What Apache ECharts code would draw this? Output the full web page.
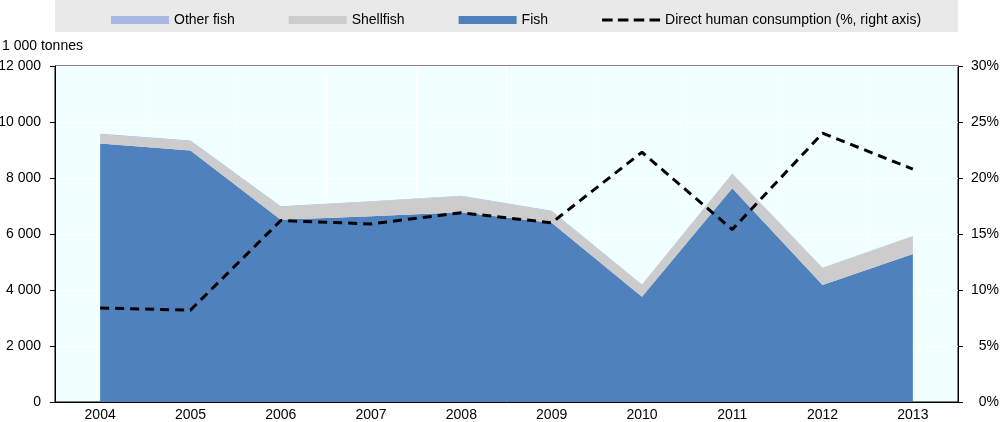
<!DOCTYPE html>
<html><head><meta charset="utf-8">
<script src="https://cdn.jsdelivr.net/npm/echarts@6/dist/echarts.min.js"></script>
<style>html,body{margin:0;padding:0;background:#fff}#c{width:1000px;height:422px}</style>
</head><body><div id="c"></div>
<script>
const categories = ['2004','2005','2006','2007','2008','2009','2010','2011','2012','2013'];
const fish = [9230, 8980, 6510, 6630, 6780, 6400, 3760, 7630, 4180, 5290];
const shellfish = [326, 336, 458, 520, 568, 408, 419, 513, 594, 639];
const otherFish = [20, 20, 20, 20, 20, 20, 20, 20, 20, 20];
const directHuman = [8.4, 8.2, 16.2, 15.9, 16.9, 16.0, 22.3, 15.4, 24.0, 20.8];

const FONT = "'Liberation Sans',Arial,sans-serif";
const chart = echarts.init(document.getElementById('c'));
const fmt = v => String(v).replace(/\B(?=(\d{3})+(?!\d))/g, ' ');
const dashIcon = 'path://M0,0h10v3h-10z M15,0h10v3h-10z M30,0h10v3h-10z M45,0h10v3h-10z';
chart.setOption({
  animation: false,
  textStyle: {fontFamily: FONT, fontSize: 14, color: '#000'},
  graphic: [
    {type: 'rect', shape: {x: 55, y: 0, width: 903, height: 32}, style: {fill: '#E9E9E9'}, z: -10},
    {type: 'text', left: 2, top: 39, style: {text: '1 000 tonnes', font: '14px ' + FONT, fill: '#000'}}
  ],
  legend: {
    top: 8, left: 106,
    itemWidth: 58, itemHeight: 8, itemGap: 54,
    textStyle: {fontFamily: FONT, fontSize: 14, color: '#000'},
    data: [
      {name: 'Other fish', icon: 'rect'},
      {name: 'Shellfish', icon: 'rect'},
      {name: 'Fish', icon: 'rect'},
      {name: 'Direct human consumption (%, right axis)', icon: dashIcon}
    ]
  },
  grid: {left: 55, right: 42, top: 66, bottom: 20, outerBoundsMode: 'none', containLabel: false,
         show: true, backgroundColor: '#F2FFFF', borderColor: '#000', borderWidth: 1},
  xAxis: {
    type: 'category', data: categories, boundaryGap: true,
    axisLine: {lineStyle: {color: '#000', width: 1}},
    axisTick: {inside: true, length: 5, lineStyle: {color: '#000'}},
    axisLabel: {color: '#000', fontFamily: FONT, fontSize: 14, margin: 6},
    splitLine: {show: true, lineStyle: {color: '#fff', width: 1}}
  },
  yAxis: [
    {type: 'value', min: 0, max: 12000, interval: 2000,
     axisLine: {show: true, lineStyle: {color: '#000'}},
     axisTick: {show: true, length: 5, lineStyle: {color: '#000'}},
     axisLabel: {color: '#000', fontFamily: FONT, fontSize: 14, margin: 14, formatter: fmt},
     splitLine: {show: true, lineStyle: {color: '#fff', width: 1}}},
    {type: 'value', min: 0, max: 30, interval: 5,
     axisLine: {show: true, lineStyle: {color: '#000'}},
     axisTick: {show: true, length: 5, lineStyle: {color: '#000'}},
     axisLabel: {color: '#000', fontFamily: FONT, fontSize: 14, margin: 41, align: 'right', formatter: v => v + '%'},
     splitLine: {show: false}}
  ],
  series: [
    {name: 'Fish', type: 'line', stack: 't', data: fish, symbol: 'none',
     lineStyle: {width: 0}, areaStyle: {color: '#4F81BD', opacity: 1}, itemStyle: {color: '#4F81BD'}},
    {name: 'Shellfish', type: 'line', stack: 't', data: shellfish, symbol: 'none',
     lineStyle: {width: 0}, areaStyle: {color: '#CCCCCC', opacity: 1}, itemStyle: {color: '#CCCCCC'}},
    {name: 'Other fish', type: 'line', stack: 't', data: otherFish, symbol: 'none',
     lineStyle: {width: 0}, areaStyle: {color: '#A7B9E3', opacity: 1}, itemStyle: {color: '#A7B9E3'}},
    {name: 'Direct human consumption (%, right axis)', type: 'line', yAxisIndex: 1, data: directHuman,
     symbol: 'none', itemStyle: {color: '#000'},
     lineStyle: {color: '#000', width: 3, type: [9, 6]}, z: 10}
  ]
});
</script></body></html>
